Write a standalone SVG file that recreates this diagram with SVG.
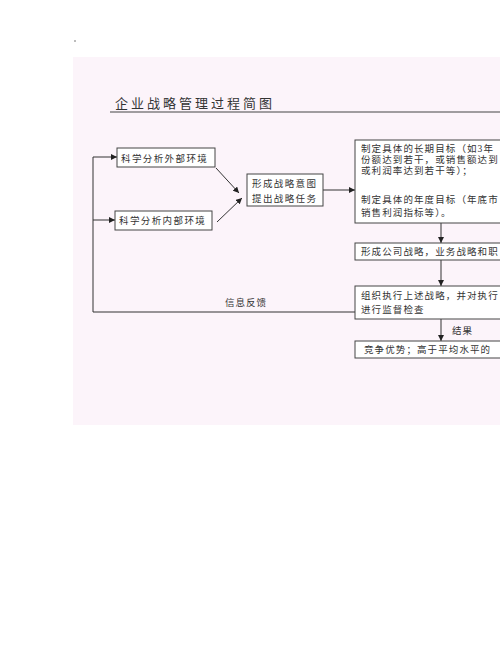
<svg xmlns="http://www.w3.org/2000/svg" width="500" height="647" viewBox="0 0 500 647">
<defs>
<style>
.bx{fill:#ffffff;stroke:#444;stroke-width:1}
.t{font-family:"Liberation Serif","Noto Sans CJK SC",serif;font-size:9.5px;fill:#333;letter-spacing:1.4px}
.ln{fill:none;stroke:#333;stroke-width:1}
</style>
<marker id="ah" viewBox="0 0 8 8" refX="8" refY="4" markerWidth="6" markerHeight="6" markerUnits="userSpaceOnUse" orient="auto">
<path d="M0,0 L8,4 L0,8 z" fill="#222"/>
</marker>
</defs>
<rect x="0" y="0" width="500" height="647" fill="#ffffff"/>
<circle cx="75" cy="41" r="0.8" fill="#666"/>
<rect x="73" y="57" width="427" height="368" fill="#fcf4fa"/>
<g id="title">
<text x="115" y="108" style="font-family:'Noto Sans CJK SC',serif;font-size:13px;fill:#333;letter-spacing:3px">企业战略管理过程简图</text>
<line x1="110" y1="112" x2="500" y2="112" stroke="#444" stroke-width="1"/>
</g>
<g id="connectors">
<polyline class="ln" points="355,312 93,312 93,157 117,157" marker-end="url(#ah)"/>
<line class="ln" x1="93" y1="220" x2="115" y2="220" marker-end="url(#ah)"/>
<line class="ln" x1="216" y1="168" x2="239" y2="193" marker-end="url(#ah)"/>
<line class="ln" x1="217" y1="222" x2="242" y2="198" marker-end="url(#ah)"/>
<line class="ln" x1="323" y1="190" x2="355" y2="190" marker-end="url(#ah)"/>
<line class="ln" x1="441" y1="223" x2="441" y2="243" marker-end="url(#ah)"/>
<line class="ln" x1="441" y1="260" x2="441" y2="286" marker-end="url(#ah)"/>
<line class="ln" x1="441" y1="319" x2="441" y2="341" marker-end="url(#ah)"/>
<text x="225" y="306" style="font-family:'Noto Sans CJK SC',serif;font-size:9.5px;fill:#333;letter-spacing:1px">信息反馈</text>
<text x="452" y="334" style="font-family:'Noto Sans CJK SC',serif;font-size:9.5px;fill:#333;letter-spacing:1px">结果</text>
</g>
<g id="n1">
<rect class="bx" x="117" y="148" width="98" height="19"/>
<text class="t" x="121" y="161.5">科学分析外部环境</text>
</g>
<g id="n2">
<rect class="bx" x="115" y="211" width="97" height="19"/>
<text class="t" x="119" y="224">科学分析内部环境</text>
</g>
<g id="n3">
<rect class="bx" x="247" y="174" width="76" height="32"/>
<text class="t" x="252" y="186.5">形成战略意图</text>
<text class="t" x="252" y="201.5">提出战略任务</text>
</g>
<g id="n4">
<rect class="bx" x="355" y="140" width="160" height="83"/>
<text class="t" x="361" y="151.5" style="letter-spacing:1.1px">制定具体的长期目标（如3年</text>
<text class="t" x="361" y="162.5" style="letter-spacing:1.1px">份额达到若干，或销售额达到</text>
<text class="t" x="361" y="174" style="letter-spacing:1.1px">或利润率达到若干等）；</text>
<text class="t" x="361" y="203" style="letter-spacing:1.1px">制定具体的年度目标（年底市</text>
<text class="t" x="361" y="215.5" style="letter-spacing:1.1px">销售利润指标等）。</text>
</g>
<g id="n5">
<rect class="bx" x="355" y="243" width="160" height="17"/>
<text class="t" x="361" y="255" style="letter-spacing:1.1px">形成公司战略，业务战略和职</text>
</g>
<g id="n6">
<rect class="bx" x="355" y="286" width="160" height="33"/>
<text class="t" x="361" y="298.5" style="letter-spacing:1.1px">组织执行上述战略，并对执行</text>
<text class="t" x="361" y="313" style="letter-spacing:1.1px">进行监督检查</text>
</g>
<g id="n7">
<rect class="bx" x="355" y="341" width="160" height="17"/>
<text class="t" x="364" y="353" style="letter-spacing:1.1px">竞争优势；高于平均水平的</text>
</g>
</svg>
